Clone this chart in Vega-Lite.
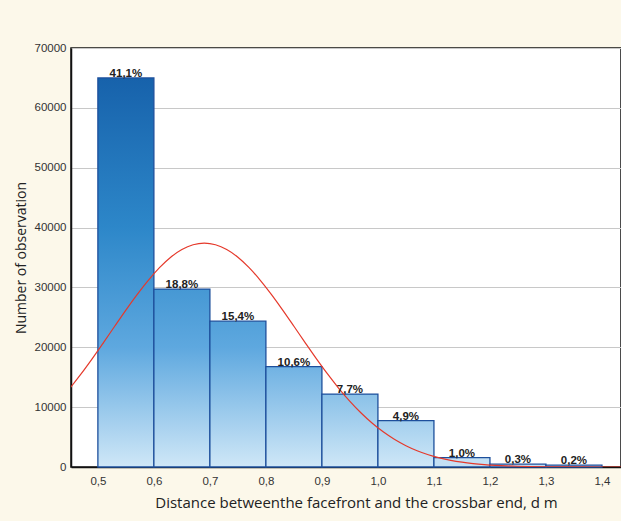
{
  "$schema": "https://vega.github.io/schema/vega-lite/v6.json",
  "width": 550,
  "height": 419,
  "autosize": {"type": "none"},
  "padding": {"left": 71, "top": 48, "right": 0, "bottom": 54},
  "background": "#fcf8ea",
  "config": {
    "view": {"fill": "white", "stroke": "#111", "strokeWidth": 1.5},
    "locale": {"number": {"decimal": ",", "thousands": " ", "grouping": [3], "currency": ["", ""]}}
  },
  "datasets": {
    "bars": [
      {"start": 0.5, "end": 0.6, "mid": 0.55, "count": 65000, "label": "41,1%"},
      {"start": 0.6, "end": 0.7, "mid": 0.65, "count": 29730, "label": "18,8%"},
      {"start": 0.7, "end": 0.8, "mid": 0.75, "count": 24355, "label": "15,4%"},
      {"start": 0.8, "end": 0.9, "mid": 0.85, "count": 16764, "label": "10,6%"},
      {"start": 0.9, "end": 1.0, "mid": 0.95, "count": 12178, "label": "7,7%"},
      {"start": 1.0, "end": 1.1, "mid": 1.05, "count": 7749, "label": "4,9%"},
      {"start": 1.1, "end": 1.2, "mid": 1.15, "count": 1581, "label": "1,0%"},
      {"start": 1.2, "end": 1.3, "mid": 1.25, "count": 474, "label": "0,3%"},
      {"start": 1.3, "end": 1.4, "mid": 1.35, "count": 316, "label": "0,2%"}
    ],
    "curve": [
      {"x": 0.43, "y": 10900},
      {"x": 0.45, "y": 13150},
      {"x": 0.47, "y": 15540},
      {"x": 0.49, "y": 18100},
      {"x": 0.51, "y": 20780},
      {"x": 0.53, "y": 23510},
      {"x": 0.55, "y": 26210},
      {"x": 0.57, "y": 28800},
      {"x": 0.59, "y": 31190},
      {"x": 0.61, "y": 33300},
      {"x": 0.63, "y": 35040},
      {"x": 0.65, "y": 36330},
      {"x": 0.67, "y": 37130},
      {"x": 0.69, "y": 37400},
      {"x": 0.71, "y": 37130},
      {"x": 0.73, "y": 36330},
      {"x": 0.75, "y": 35040},
      {"x": 0.77, "y": 33300},
      {"x": 0.79, "y": 31190},
      {"x": 0.81, "y": 28800},
      {"x": 0.83, "y": 26210},
      {"x": 0.85, "y": 23510},
      {"x": 0.87, "y": 20780},
      {"x": 0.89, "y": 18100},
      {"x": 0.91, "y": 15540},
      {"x": 0.93, "y": 13150},
      {"x": 0.95, "y": 10970},
      {"x": 0.97, "y": 9020},
      {"x": 0.99, "y": 7300},
      {"x": 1.01, "y": 5830},
      {"x": 1.03, "y": 4590},
      {"x": 1.05, "y": 3560},
      {"x": 1.07, "y": 2720},
      {"x": 1.09, "y": 2050},
      {"x": 1.11, "y": 1520},
      {"x": 1.13, "y": 1110},
      {"x": 1.15, "y": 800},
      {"x": 1.17, "y": 570},
      {"x": 1.19, "y": 400},
      {"x": 1.21, "y": 276},
      {"x": 1.23, "y": 188},
      {"x": 1.25, "y": 126},
      {"x": 1.27, "y": 84},
      {"x": 1.3, "y": 44},
      {"x": 1.35, "y": 14},
      {"x": 1.4, "y": 4},
      {"x": 1.44, "y": 1}
    ]
  },
  "layer": [
    {
      "data": {"name": "bars"},
      "mark": {"type": "bar", "stroke": "#1d4f9c", "strokeWidth": 1.3},
      "encoding": {
        "x": {
          "field": "start",
          "type": "quantitative",
          "scale": {"domain": [0.452, 1.434], "nice": false, "zero": false},
          "axis": {
            "values": [0.5, 0.6, 0.7, 0.8, 0.9, 1.0, 1.1, 1.2, 1.3, 1.4],
            "format": ".1f",
            "grid": false,
            "labelFont": "Liberation Sans",
            "labelFontSize": 11.5,
            "labelColor": "#333",
            "labelPadding": 8,
            "ticks": false,
            "domainColor": "#111",
            "domainWidth": 1.5,
            "title": "Distance betweenthe facefront and the crossbar end, d m",
            "titleFont": "Open Sans",
            "titleFontSize": 15,
            "titleFontWeight": "normal",
            "titleColor": "#222",
            "titlePadding": 9,
            "titleX": 285,
            "titleAlign": "center"
          }
        },
        "x2": {"field": "end"},
        "y": {
          "field": "count",
          "type": "quantitative",
          "scale": {"domain": [0, 70000], "nice": false, "padding": 0},
          "axis": {
            "values": [0, 10000, 20000, 30000, 40000, 50000, 60000, 70000],
            "format": "d",
            "grid": true,
            "gridColor": "#c8c8c8",
            "gridWidth": 1,
            "labelFont": "Liberation Sans",
            "labelFontSize": 11.5,
            "labelColor": "#333",
            "labelPadding": 5,
            "ticks": false,
            "domainColor": "#111",
            "domainWidth": 1.5,
            "title": "Number of observation",
            "titleFont": "Open Sans",
            "titleFontSize": 14,
            "titleFontWeight": "normal",
            "titleColor": "#222",
            "titlePadding": 6
          }
        },
        "y2": {"datum": 0},
        "fill": {
          "condition": [
            {"test": "datum.start == 0.5", "value": {"gradient": "linear", "x1": 0, "y1": 0, "x2": 0, "y2": 1, "stops": [{"offset": 0, "color": "#1762ab"}, {"offset": 0.385, "color": "#2d87c9"}, {"offset": 0.692, "color": "#5ea8df"}, {"offset": 1, "color": "#cfe7f7"}]}},
            {"test": "datum.start == 0.6", "value": {"gradient": "linear", "x1": 0, "y1": 0, "x2": 0, "y2": 1, "stops": [{"offset": 0, "color": "#4698d4"}, {"offset": 0.327, "color": "#5ea8df"}, {"offset": 1, "color": "#cfe7f7"}]}},
            {"test": "datum.start == 0.7", "value": {"gradient": "linear", "x1": 0, "y1": 0, "x2": 0, "y2": 1, "stops": [{"offset": 0, "color": "#53a1da"}, {"offset": 0.179, "color": "#5ea8df"}, {"offset": 1, "color": "#cfe7f7"}]}},
            {"test": "datum.start == 0.8", "value": {"gradient": "linear", "x1": 0, "y1": 0, "x2": 0, "y2": 1, "stops": [{"offset": 0, "color": "#70b2e3"}, {"offset": 1, "color": "#cfe7f7"}]}},
            {"test": "datum.start == 0.9", "value": {"gradient": "linear", "x1": 0, "y1": 0, "x2": 0, "y2": 1, "stops": [{"offset": 0, "color": "#8ac1e8"}, {"offset": 1, "color": "#cfe7f7"}]}},
            {"test": "datum.start == 1.0", "value": {"gradient": "linear", "x1": 0, "y1": 0, "x2": 0, "y2": 1, "stops": [{"offset": 0, "color": "#a3cfee"}, {"offset": 1, "color": "#cfe7f7"}]}}
          ],
          "value": "#c4e0f4"
        }
      }
    },
    {
      "data": {"name": "curve"},
      "mark": {"type": "line", "color": "#e5392b", "strokeWidth": 1.2, "clip": true, "interpolate": "monotone"},
      "encoding": {
        "x": {"field": "x", "type": "quantitative"},
        "y": {"field": "y", "type": "quantitative"}
      }
    },
    {
      "data": {"name": "bars"},
      "mark": {"type": "text", "baseline": "bottom", "dy": 1, "font": "Liberation Sans", "fontSize": 11.5, "fontWeight": "bold", "color": "#222"},
      "encoding": {
        "x": {"field": "mid", "type": "quantitative"},
        "y": {"field": "count", "type": "quantitative"},
        "text": {"field": "label"}
      }
    }
  ]
}
